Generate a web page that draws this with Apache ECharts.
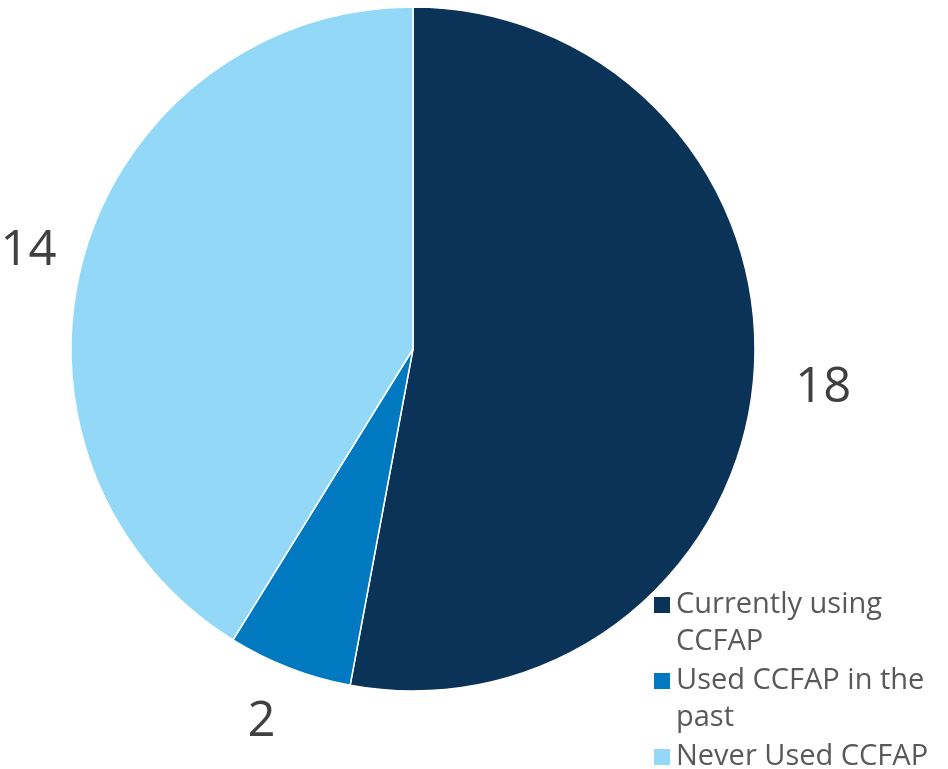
<!DOCTYPE html>
<html><head><meta charset="utf-8">
<script src="https://cdn.jsdelivr.net/npm/echarts@6/dist/echarts.min.js"></script>
<style>html,body{margin:0;padding:0;background:#fff}#c{width:948px;height:769px}</style>
</head><body><div id="c"></div>
<script>
const categories = ["Currently using CCFAP", "Used CCFAP in the past", "Never Used CCFAP"];
const values = [18, 2, 14];
const colors = ["#0A3357", "#0079C1", "#93D8F7"];

// legend marker: an 18px square aligned with the first text line of a 74px tall item
const ICON = 'path://M0,0L0.01,0M0,9.5L18,9.5L18,27.5L0,27.5ZM0,74L0.01,74';
const labelLen = [[82, -45], [58, -12], [15, 8]];

const chart = echarts.init(document.getElementById('c'));
chart.setOption({
  animation: false,
  color: colors,
  legend: {
    orient: 'vertical',
    left: 652,
    top: 585.5,
    height: 300,
    padding: 0,
    itemWidth: 18,
    itemHeight: 74,
    itemGap: 0,
    icon: ICON,
    data: categories,
    formatter: function (name) {
      return name === categories[2] ? name + '\n ' : name;
    },
    textStyle: {
      fontFamily: 'Open Sans',
      fontSize: 29,
      color: '#595959',
      width: 265,
      overflow: 'break',
      lineHeight: 37
    }
  },
  series: [{
    type: 'pie',
    center: [413, 349],
    radius: [0, 342],
    startAngle: 90,
    clockwise: true,
    avoidLabelOverlap: false,
    itemStyle: { borderColor: '#fff', borderWidth: 1.5 },
    label: {
      show: true,
      position: 'outside',
      formatter: '{c}',
      fontFamily: 'Open Sans',
      fontSize: 49,
      color: '#404040'
    },
    labelLine: { show: false },
    data: categories.map((n, i) => ({
      name: n,
      value: values[i],
      labelLine: { length: labelLen[i][0], length2: labelLen[i][1] }
    }))
  }]
});
</script></body></html>
